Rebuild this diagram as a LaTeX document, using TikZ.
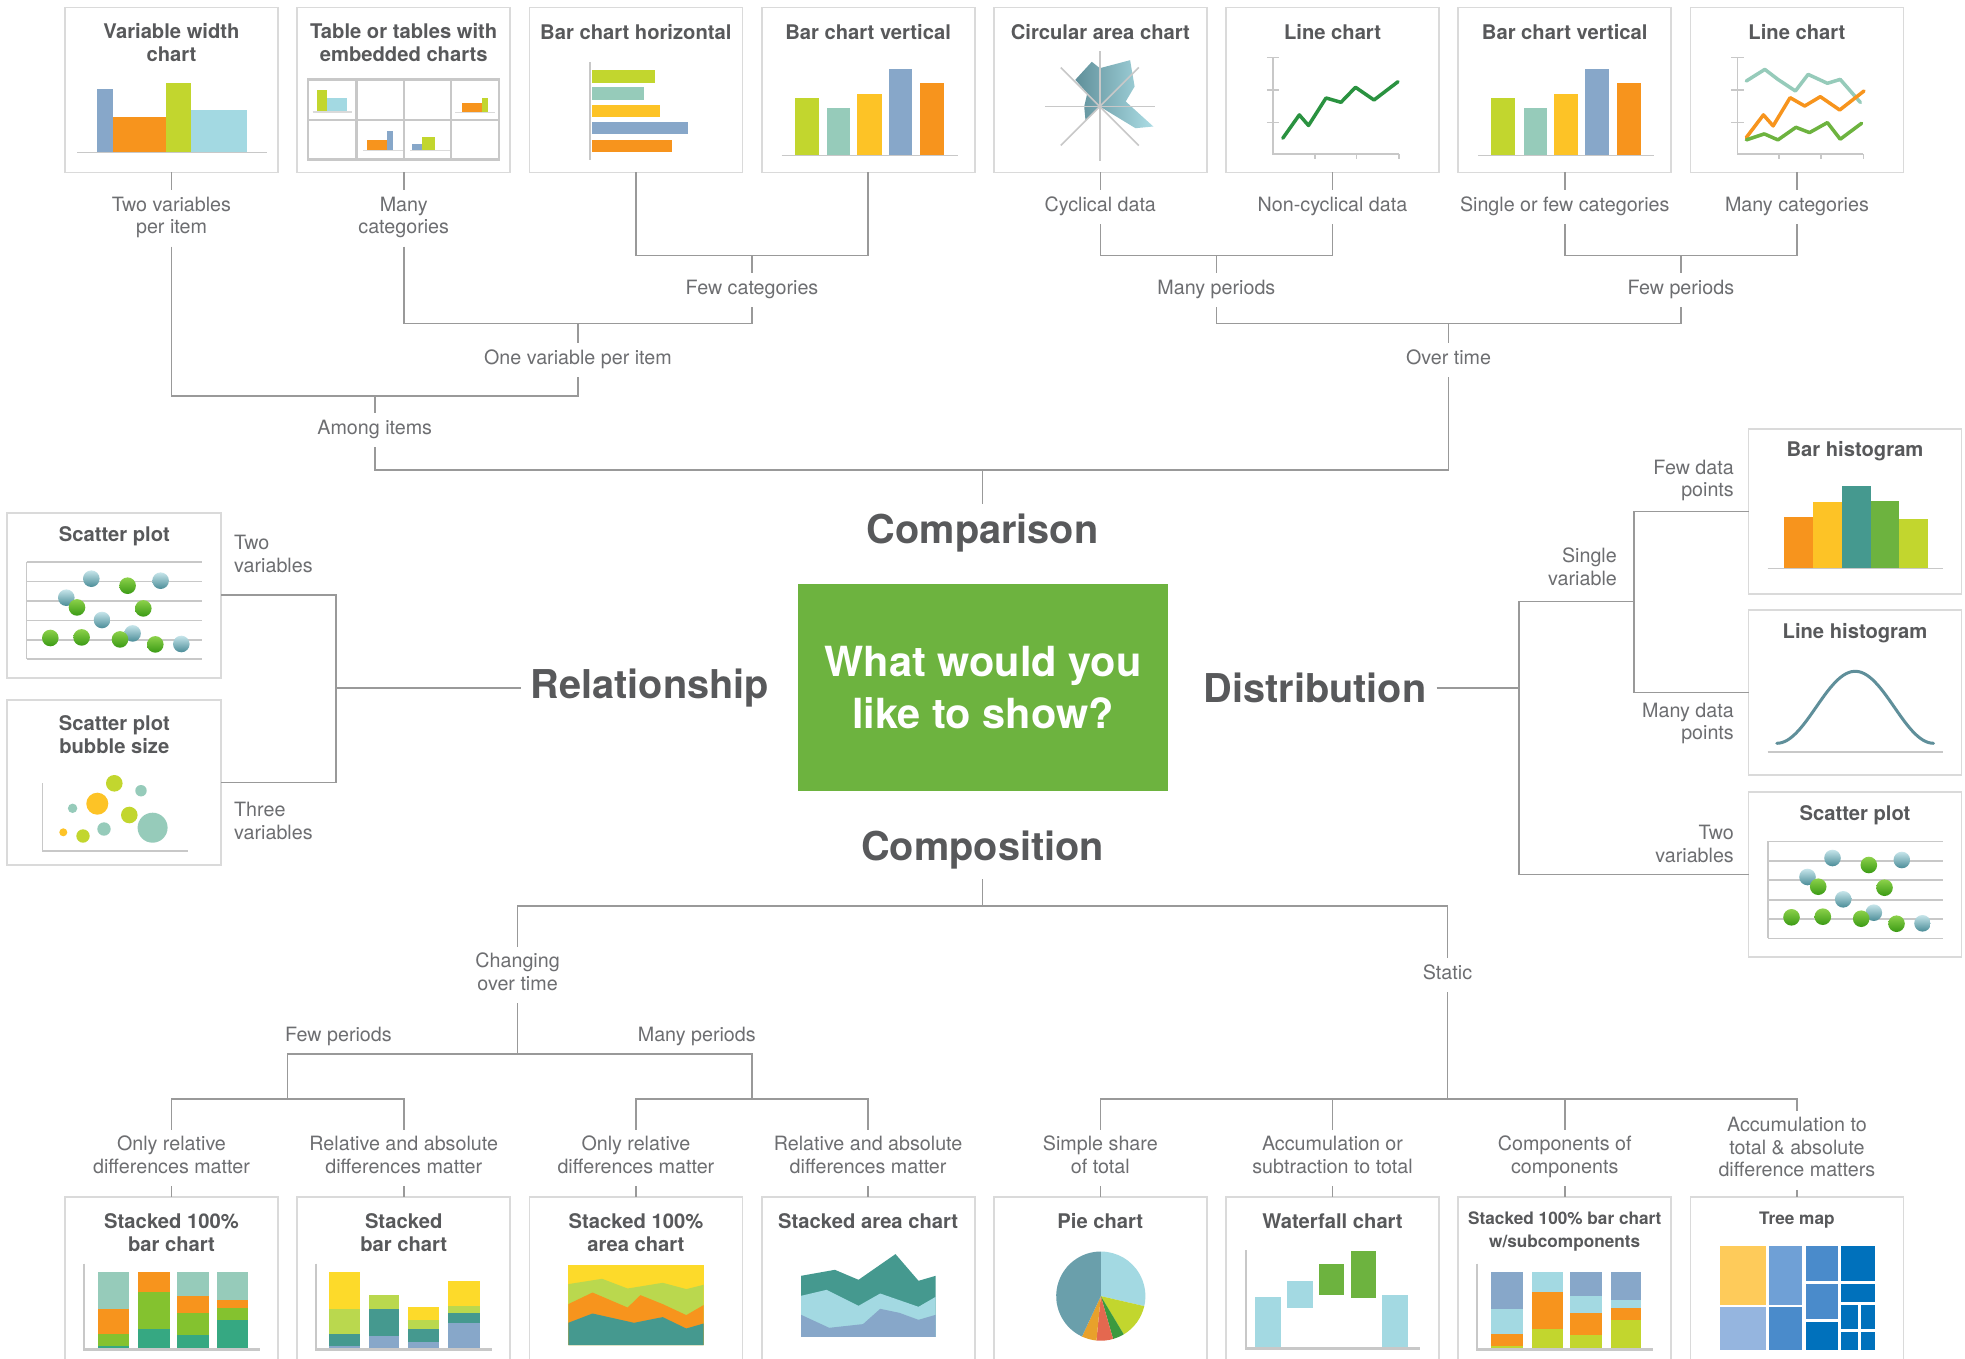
\documentclass[tikz,border=0pt]{standalone}
\usepackage{fontspec}
\setmainfont{TeX Gyre Heros}
\usetikzlibrary{calc,positioning}

\definecolor{boxline}{HTML}{DADADA}
\definecolor{linkgray}{HTML}{999999}
\definecolor{axisgray}{HTML}{C8C8C8}
\definecolor{titlegray}{HTML}{58595B}
\definecolor{lblgray}{HTML}{6D6E71}
\definecolor{cgreen}{HTML}{6DB33F}
\definecolor{cblue}{HTML}{87A7C9}
\definecolor{corange}{HTML}{F7941D}
\definecolor{clime}{HTML}{C2D62E}
\definecolor{ccyan}{HTML}{A3D9E2}
\definecolor{cmint}{HTML}{96CBBA}
\definecolor{cyellow}{HTML}{FDC326}
\definecolor{cteal}{HTML}{45998F}
\definecolor{cdkgreen}{HTML}{2A9240}
\definecolor{csgreen}{HTML}{84C22F}
\definecolor{cjade}{HTML}{36A882}
\definecolor{cbyellow}{HTML}{FDDA2A}
\definecolor{cpale}{HTML}{BAD84E}
\definecolor{cslate}{HTML}{6A9FAB}
\definecolor{cred}{HTML}{E4684F}
\definecolor{cgold}{HTML}{E8A12B}
\definecolor{cpgreen}{HTML}{3B9A3F}
\definecolor{tmyellow}{HTML}{FECB5A}
\definecolor{tmlight}{HTML}{95B5DF}
\definecolor{tmmid}{HTML}{6FA0D6}
\definecolor{tmblue}{HTML}{4A8BCB}
\definecolor{tmdark}{HTML}{0071BC}
\definecolor{ballhi}{HTML}{C6E5EA}
\definecolor{balllo}{HTML}{4A8C97}
\definecolor{grnhi}{HTML}{8CD14A}
\definecolor{grnlo}{HTML}{3A9A14}

\tikzset{
  chart/.style={draw=boxline,line width=1.8pt,fill=white,minimum width=213pt,minimum height=165pt,inner sep=0pt,outer sep=0pt},
  link/.style={draw=linkgray,line width=1.6pt},
  ax/.style={draw=axisgray,line width=1.6pt},
  ttl/.style={text=titlegray,font=\fontsize{20.2}{23}\selectfont\bfseries,align=center,inner sep=0pt},
  ttlsm/.style={ttl,font=\fontsize{17.2}{23}\selectfont\bfseries},
  lbl/.style={text=lblgray,font=\fontsize{19.7}{22.5}\selectfont,align=center,inner sep=6pt,
    execute at begin node=\strut,execute at end node=\strut},
  head/.style={text=titlegray,font=\fontsize{39.7}{46}\selectfont\bfseries,inner sep=10pt},
  ln/.style={line width=3.5pt,line cap=round,line join=round},
  tealball/.style={top color=ballhi,bottom color=balllo},
  greenball/.style={top color=grnhi,bottom color=grnlo}
}

% scatter chart inside a box
\newcommand{\scatterchart}{%
  \foreach \gy in {49.3,68.7,88,107.7,127,146.3} \draw[ax] (19.3,\gy) -- (194.7,\gy);
  \draw[ax] (19.3,49.3) -- (19.3,146.3);
  \foreach \px/\py in {84/66,153.3/68,59/85,94.7/107.3,125.3/120.7,174/131.3}
    \shade[tealball] (\px,\py) circle (8.3pt);
  \foreach \px/\py in {120.3/73,69.7/94.7,136/95.7,43/125.3,74.3/124.7,112.7/126.7,148/131.7}
    \shade[greenball] (\px,\py) circle (8.3pt);
}
% vertical bars
\newcommand{\barsvert}{%
  \fill[clime] (33,90.5) rectangle (57,148);
  \fill[cmint] (65.5,100.5) rectangle (88.7,148);
  \fill[cyellow] (95.8,86.5) rectangle (120,148);
  \fill[cblue] (127,61.5) rectangle (150.6,148);
  \fill[corange] (158.6,75.5) rectangle (182.7,148);
  \draw[ax] (20,148) -- (196,148);
}
% axes of the line charts
\newcommand{\lineaxes}{%
  \draw[ax] (47,50) -- (47,146.7) -- (173,146.7);
  \foreach \ty in {50,82.5,115} \draw[ax] (40.8,\ty) -- (53.4,\ty);
  \foreach \tx in {88.8,130.5,173} \draw[ax] (\tx,146.7) -- (\tx,152);
}
% four stacked 100% bars
\newcommand{\stackhundred}[4]{%
  \fill[#1] (33.2,75.3) rectangle (64.4,112.3);
  \fill[#2] (33.2,112.3) rectangle (64.4,137);
  \fill[#3] (33.2,137) rectangle (64.4,149);
  \fill[#4] (33.2,149) rectangle (64.4,151.3);
  \fill[#2] (73.3,75.3) rectangle (104.6,95.3);
  \fill[#3] (73.3,95.3) rectangle (104.6,132.3);
  \fill[#4] (73.3,132.3) rectangle (104.6,151.3);
  \fill[#1] (112.2,75.3) rectangle (143.5,99.3);
  \fill[#2] (112.2,99.3) rectangle (143.5,116.3);
  \fill[#3] (112.2,116.3) rectangle (143.5,138.3);
  \fill[#4] (112.2,138.3) rectangle (143.5,151.3);
  \fill[#1] (152.4,75.3) rectangle (183,103.3);
  \fill[#2] (152.4,103.3) rectangle (183,111.3);
  \fill[#3] (152.4,111.3) rectangle (183,123.3);
  \fill[#4] (152.4,123.3) rectangle (183,151.3);
  \draw[ax,line width=2.4pt] (19,66.7) -- (19,152.7) -- (194.5,152.7);
}

\begin{document}
\begin{tikzpicture}[x=1pt,y=-1pt]
\useasboundingbox (0,0) rectangle (1965,1359);
\clip (0,0) rectangle (1965,1359);
\fill[white] (0,0) rectangle (1965,1359);

% ---------- comparison (top row) ----------
\foreach \i/\x in {1/171.5,2/403.7,3/635.9,4/868.1,5/1100.3,6/1332.5,7/1564.7,8/1796.9}
  \node[chart] (t\i) at (\x,90) {};

\begin{scope}[shift={(t1.north west)}]
  \node[ttl] at (106.5,35) {Variable width\\chart};
  \fill[cblue] (32,81.5) rectangle (47.5,145);
  \fill[corange] (47.5,110) rectangle (101,145);
  \fill[clime] (101,75.5) rectangle (126,145);
  \fill[ccyan] (126,102.5) rectangle (181.5,145);
  \draw[ax] (12,145) -- (202,145);
\end{scope}
\begin{scope}[shift={(t2.north west)}]
  \node[ttl] at (106.5,35) {Table or tables with\\embedded charts};
  \draw[ax,line width=2.4pt] (10.7,72) rectangle (201.5,152);
  \foreach \gx in {59.4,106.7,154} \draw[ax,line width=2.4pt] (\gx,72) -- (\gx,152);
  \draw[ax,line width=2.4pt] (10.7,112.4) -- (201.5,112.4);
  \fill[clime] (20,82.5) rectangle (30,104);
  \fill[ccyan] (30,90.5) rectangle (50,104);
  \draw[boxline,line width=1.4pt] (15.3,104.5) -- (55,104.5);
  \fill[corange] (164.6,95.5) rectangle (184.5,104.5);
  \fill[clime] (184.5,90.5) rectangle (191,104.5);
  \draw[boxline,line width=1.4pt] (157.8,105) -- (197.6,105);
  \fill[corange] (70,132.4) rectangle (90,142.7);
  \fill[cblue] (90,123.4) rectangle (96,142.7);
  \draw[boxline,line width=1.4pt] (66,143.2) -- (106,143.2);
  \fill[cblue] (115,136.4) rectangle (125,142.7);
  \fill[clime] (125,129.4) rectangle (137.6,142.7);
  \draw[boxline,line width=1.4pt] (113,143.2) -- (153,143.2);
\end{scope}
\begin{scope}[shift={(t3.north west)}]
  \node[ttl] at (106.5,24.5) {Bar chart horizontal};
  \fill[clime] (62.4,62.5) rectangle (126,75.2);
  \fill[cmint] (62.4,79.8) rectangle (115,92.5);
  \fill[cyellow] (62.4,97.5) rectangle (131,110);
  \fill[cblue] (62.4,114.5) rectangle (159,127);
  \fill[corange] (62.4,132.4) rectangle (143,145);
  \draw[ax] (60.6,54.5) -- (60.6,153);
\end{scope}
\begin{scope}[shift={(t4.north west)}]
  \node[ttl] at (106.5,24.5) {Bar chart vertical};
  \barsvert
\end{scope}
\begin{scope}[shift={(t5.north west)}]
  \node[ttl] at (106.5,24.5) {Circular area chart};
  \shade[left color=cslate!90!black,right color=ccyan!90!white]
    (98,54.3) -- (106,60.7) -- (136.3,52.7) -- (140.8,79) -- (131.9,94) -- (159.5,119)
    -- (141.7,120.7) -- (106,99) -- (91.7,113) -- (90.4,99) -- (93.5,85.7) -- (81.5,72.3) -- cycle;
  \draw[ax] (106,44) -- (106,154);
  \draw[ax] (51,99) -- (161,99);
  \draw[ax] (67,60) -- (145,138);
  \draw[ax] (145,60) -- (67,138);
\end{scope}
\begin{scope}[shift={(t6.north west)}]
  \node[ttl] at (106.5,24.5) {Line chart};
  \lineaxes
  \draw[ln,cdkgreen] (56.8,130.7) -- (73.3,107.4) -- (82.5,118) -- (100,90.5) -- (115,94.8)
    -- (129.5,79.8) -- (148,92.5) -- (172,74.2);
\end{scope}
\begin{scope}[shift={(t7.north west)}]
  \node[ttl] at (106.5,24.5) {Bar chart vertical};
  \barsvert
\end{scope}
\begin{scope}[shift={(t8.north west)}]
  \node[ttl] at (106.5,24.5) {Line chart};
  \lineaxes
  \draw[ln,cmint] (55.9,73.5) -- (74.4,61.9) -- (87.5,71.9) -- (105,83.5) -- (117.7,66.9)
    -- (137,75.8) -- (149.8,71.9) -- (170,95);
  \draw[ln,corange] (55.9,130) -- (73,107.4) -- (82.7,118.4) -- (99.7,90.2) -- (114.3,98.5)
    -- (129.9,89.2) -- (149.3,102.5) -- (173.6,83.5);
  \draw[ln,cgreen] (55.9,132.4) -- (73.9,126.4) -- (87.5,132.4) -- (105.5,119.8) -- (119.1,125.1)
    -- (137,115.1) -- (149.8,131.7) -- (171.2,115.8);
\end{scope}

\node[lbl] (lb1) at (171.5,218.5) {Two variables\\per item};
\node[lbl] (lb2) at (403.7,218.5) {Many\\categories};
\node[lbl] (lb5) at (1100.3,207) {Cyclical data};
\node[lbl] (lb6) at (1332.5,207) {Non-cyclical data};
\node[lbl] (lb7) at (1564.7,207) {Single or few categories};
\node[lbl] (lb8) at (1796.9,207) {Many categories};
\node[lbl] (fewcat) at (752,290) {Few categories};
\node[lbl] (manyper) at (1216.4,290) {Many periods};
\node[lbl] (fewper) at (1680.8,290) {Few periods};
\node[lbl] (onevar) at (577.9,360) {One variable per item};
\node[lbl] (overtime) at (1448.6,360) {Over time};
\node[lbl] (among) at (374.7,430) {Among items};
\node[head] (cmp) at (982.5,533) {Comparison};

\coordinate (k1) at (0,255.6);
\coordinate (k2) at (0,323.3);
\coordinate (k3) at (0,396);
\coordinate (k4) at (0,470);

\foreach \i in {1,2,5,6,7,8} \draw[link] (t\i.south) -- (lb\i.north);
\draw[link] (t3.south) |- (t4.south |- k1) -- (t4.south);
\draw[link] (fewcat.north) -- (fewcat.north |- k1);
\draw[link] (lb5.south) |- (lb6.south |- k1) -- (lb6.south);
\draw[link] (manyper.north) -- (manyper.north |- k1);
\draw[link] (lb7.south) |- (lb8.south |- k1) -- (lb8.south);
\draw[link] (fewper.north) -- (fewper.north |- k1);
\draw[link] (lb2.south) |- (fewcat.south |- k2) -- (fewcat.south);
\draw[link] (onevar.north) -- (onevar.north |- k2);
\draw[link] (manyper.south) |- (fewper.south |- k2) -- (fewper.south);
\draw[link] (overtime.north) -- (overtime.north |- k2);
\draw[link] (lb1.south) |- (onevar.south |- k3) -- (onevar.south);
\draw[link] (among.north) -- (among.north |- k3);
\draw[link] (among.south) |- (overtime.south |- k4) -- (overtime.south);
\draw[link] (cmp.north) -- (cmp.north |- k4);

% ---------- centre ----------
\node[fill=cgreen,minimum width=370pt,minimum height=207pt,text=white,align=center,
  font=\fontsize{41.5}{52}\selectfont\bfseries] (q) at (983,687.5) {What would you\\like to show?};

% ---------- relationship (left) ----------
\node[chart,minimum width=214pt] (l1) at (114.3,595.2) {};
\node[chart,minimum width=214pt] (l2) at (114.3,782.5) {};
\begin{scope}[shift={(l1.north west)}]
  \node[ttl] at (107,23.5) {Scatter plot};
  \scatterchart
\end{scope}
\begin{scope}[shift={(l2.north west)}]
  \node[ttl] at (107,34.5) {Scatter plot\\bubble size};
  \fill[clime] (107,83.3) circle (8.3pt);
  \fill[cmint] (133.7,90.7) circle (5.7pt);
  \fill[cyellow] (90,103.7) circle (11pt);
  \fill[cmint] (65.3,108.3) circle (4.7pt);
  \fill[clime] (122,115) circle (8.3pt);
  \fill[cmint] (145.3,127.7) circle (15pt);
  \fill[cmint] (96.7,129) circle (6.7pt);
  \fill[cyellow] (56,132.3) circle (4pt);
  \fill[clime] (75.7,136) circle (6.7pt);
  \draw[ax] (35.3,83.3) -- (35.3,151) -- (180.3,151);
\end{scope}
\node[head] (rel) at (650,688) {Relationship};
\node[lbl,align=left,anchor=west] (twovl) at (228,557) {Two\\variables};
\node[lbl,align=left,anchor=west] (threev) at (228,824) {Three\\variables};
\coordinate (kl) at (336,688);
\draw[link] (l1.east) -| (kl) |- (l2.east);
\draw[link] (rel.west) -- (rel.west -| kl);

% ---------- distribution (right) ----------
\node[chart] (r1) at (1855,511.5) {};
\node[chart] (r2) at (1855,692.5) {};
\node[chart] (r3) at (1855,874.5) {};
\begin{scope}[shift={(r1.north west)}]
  \node[ttl] at (106.5,22.5) {Bar histogram};
  \fill[corange] (35,88) rectangle (64,139.3);
  \fill[cyellow] (64,73) rectangle (93,139.3);
  \fill[cteal] (93,57) rectangle (122,139.3);
  \fill[cgreen] (122,72) rectangle (150,139.3);
  \fill[clime] (150,90) rectangle (179,139.3);
  \draw[ax] (19,139.3) -- (194.7,139.3);
\end{scope}
\begin{scope}[shift={(r2.north west)}]
  \node[ttl] at (106.5,23.5) {Line histogram};
  \draw[ax] (19,141.7) -- (194.7,141.7);
  \draw[line width=3pt,line cap=round,color=cslate!90!black] plot[domain=28.3:185,samples=60]
    (\x,{133.3-72*(1+cos(180*(\x-106.7)/78.4))/2});
\end{scope}
\begin{scope}[shift={(r3.north west)}]
  \node[ttl] at (106.5,23.5) {Scatter plot};
  \scatterchart
\end{scope}
\node[head] (dist) at (1315,688) {Distribution};
\node[lbl,align=right,anchor=east] (fewdp) at (1740,481.5) {Few data\\points};
\node[lbl,align=right,anchor=east] (single) at (1623,570) {Single\\variable};
\node[lbl,align=right,anchor=east] (manydp) at (1740,724.5) {Many data\\points};
\node[lbl,align=right,anchor=east] (twovr) at (1740,847) {Two\\variables};
\coordinate (kr) at (1519,688);
\coordinate (ks) at (1634,601.5);
\draw[link] (dist.east) -- (dist.east -| kr);
\draw[link] (r3.west) -| (kr) |- (ks);
\draw[link] (r1.west) -| (ks) |- (r2.west);

% ---------- composition (bottom row) ----------
\node[head] (comp) at (982.5,850) {Composition};
\node[lbl] (chg) at (517.6,975) {Changing\\over time};
\node[lbl] (stat) at (1447.5,975) {Static};
\node[lbl] (fewp) at (338.4,1037) {Few periods};
\node[lbl] (manyp) at (696.8,1037) {Many periods};

\node[lbl] (bl1) at (171.5,1158) {Only relative\\differences matter};
\node[lbl] (bl2) at (403.7,1158) {Relative and absolute\\differences matter};
\node[lbl] (bl3) at (635.9,1158) {Only relative\\differences matter};
\node[lbl] (bl4) at (868.1,1158) {Relative and absolute\\differences matter};
\node[lbl] (bl5) at (1100.3,1158) {Simple share\\of total};
\node[lbl] (bl6) at (1332.5,1158) {Accumulation or\\subtraction to total};
\node[lbl] (bl7) at (1564.7,1158) {Components of\\components};
\node[lbl] (bl8) at (1796.9,1150.5) {Accumulation to\\total \& absolute\\difference matters};

\foreach \i/\x in {1/171.5,2/403.7,3/635.9,4/868.1,5/1100.3,6/1332.5,7/1564.7,8/1796.9}
  \node[chart] (b\i) at (\x,1279.3) {};

\coordinate (kc) at (0,906);
\coordinate (kp) at (0,1054);
\coordinate (kq) at (0,1099);
\coordinate (ka) at ($(bl1.north)!0.5!(bl2.north)$);
\coordinate (kb) at ($(bl3.north)!0.5!(bl4.north)$);
\draw[link] (comp.south) -- (comp.south |- kc);
\draw[link] (chg.north) |- (stat.north |- kc) -- (stat.north);
\draw[link] (chg.south) -- (chg.south |- kp);
\draw[link] (ka |- kq) -- (ka |- kp) -- (kb |- kp) -- (kb |- kq);
\draw[link] (bl1.north) |- (bl2.north |- kq) -- (bl2.north);
\draw[link] (bl3.north) |- (bl4.north |- kq) -- (bl4.north);
\draw[link] (stat.south) -- (stat.south |- kq);
\draw[link] (bl5.north) |- (bl8.north |- kq) -- (bl8.north);
\draw[link] (bl6.north) -- (bl6.north |- kq);
\draw[link] (bl7.north) -- (bl7.north |- kq);
\foreach \i in {1,...,8} \draw[link] (bl\i.south) -- (b\i.north);

\begin{scope}[shift={(b1.north west)}]
  \node[ttl] at (106.5,35.5) {Stacked 100\%\\bar chart};
  \stackhundred{cmint}{corange}{csgreen}{cjade}
\end{scope}
\begin{scope}[shift={(b2.north west)}]
  \node[ttl] at (106.5,35.5) {Stacked\\bar chart};
  \fill[cbyellow] (31.9,75.3) rectangle (63.1,112.3);
  \fill[cpale] (31.9,112.3) rectangle (63.1,137.3);
  \fill[cteal] (31.9,137.3) rectangle (63.1,149.3);
  \fill[cblue] (31.9,149.3) rectangle (63.1,151.3);
  \fill[cpale] (71.4,98.3) rectangle (102,112.3);
  \fill[cteal] (71.4,112.3) rectangle (102,139.3);
  \fill[cblue] (71.4,139.3) rectangle (102,151.3);
  \fill[cbyellow] (111,110.3) rectangle (142.2,123.3);
  \fill[cpale] (111,123.3) rectangle (142.2,132.3);
  \fill[cteal] (111,132.3) rectangle (142.2,145.3);
  \fill[cblue] (111,145.3) rectangle (142.2,151.3);
  \fill[cbyellow] (151.1,84.3) rectangle (182.4,109.3);
  \fill[cpale] (151.1,109.3) rectangle (182.4,116.3);
  \fill[cteal] (151.1,116.3) rectangle (182.4,126.3);
  \fill[cblue] (151.1,126.3) rectangle (182.4,151.3);
  \draw[ax,line width=2.4pt] (19,66.7) -- (19,152.7) -- (194.5,152.7);
\end{scope}
\begin{scope}[shift={(b3.north west)}]
  \node[ttl] at (106.5,35.5) {Stacked 100\%\\area chart};
  \fill[cbyellow] (38.9,68.3) rectangle (174.1,148.3);
  \fill[cpale] (38.9,87.3) -- (72.7,82) -- (98.2,91.7) -- (133.3,86) -- (156.9,92.3) -- (174.1,88)
    -- (174.1,148.3) -- (38.9,148.3) -- cycle;
  \fill[corange] (38.9,107.3) -- (63.1,95.7) -- (98.2,110.7) -- (111,98.3) -- (133.3,107.3)
    -- (156.9,118.3) -- (174.1,108.3) -- (174.1,148.3) -- (38.9,148.3) -- cycle;
  \fill[cteal] (38.9,126) -- (63.1,116.7) -- (104.6,126) -- (133.3,120.3) -- (156.9,131.7)
    -- (174.1,126.7) -- (174.1,148.3) -- (38.9,148.3) -- cycle;
\end{scope}
\begin{scope}[shift={(b4.north west)}]
  \node[ttl] at (106.5,24.5) {Stacked area chart};
  \fill[cteal] (39.5,79) -- (73.3,73) -- (96.9,83) -- (133.9,57.3) -- (156.9,84) -- (174.1,79)
    -- (174.1,140) -- (39.5,140) -- cycle;
  \fill[ccyan] (39.5,99) -- (65,93) -- (96.9,109) -- (118.6,96.7) -- (156.9,110) -- (174.1,100)
    -- (174.1,140) -- (39.5,140) -- cycle;
  \fill[cblue] (39.5,118) -- (67.6,131) -- (101.4,127.3) -- (118.6,112) -- (137.7,116)
    -- (156.9,123) -- (174.1,118) -- (174.1,140) -- (39.5,140) -- cycle;
\end{scope}
\begin{scope}[shift={(b5.north west)}]
  \node[ttl] at (106.5,24.5) {Pie chart};
  \coordinate (pc) at (107,99.3);
  \fill[ccyan] (pc) -- ++(90:44.6pt) arc[start angle=90,end angle=-13,radius=44.6pt] -- cycle;
  \fill[clime] (pc) -- ++(-13:44.6pt) arc[start angle=-13,end angle=-59,radius=44.6pt] -- cycle;
  \fill[cpgreen] (pc) -- ++(-59:44.6pt) arc[start angle=-59,end angle=-74,radius=44.6pt] -- cycle;
  \fill[cred] (pc) -- ++(-74:44.6pt) arc[start angle=-74,end angle=-95.6,radius=44.6pt] -- cycle;
  \fill[cgold] (pc) -- ++(-95.6:44.6pt) arc[start angle=-95.6,end angle=-115,radius=44.6pt] -- cycle;
  \fill[cslate] (pc) -- ++(-115:44.6pt) arc[start angle=-115,end angle=-270,radius=44.6pt] -- cycle;
\end{scope}
\begin{scope}[shift={(b6.north west)}]
  \node[ttl] at (106.5,24.5) {Waterfall chart};
  \fill[ccyan] (29.4,100) rectangle (55,150.7);
  \fill[ccyan] (60.8,84) rectangle (86.5,111.3);
  \fill[cgreen] (92.8,67.3) rectangle (118.4,98.3);
  \fill[cgreen] (124.7,54) rectangle (150.4,101.3);
  \fill[ccyan] (156,98.3) rectangle (182.3,150.7);
  \draw[ax,line width=2.4pt] (20,53.3) -- (20,151.7) -- (194.2,151.7);
\end{scope}
\begin{scope}[shift={(b7.north west)}]
  \node[ttlsm] at (106.5,34.5) {Stacked 100\% bar chart\\w/subcomponents};
  \stackhundred{cblue}{ccyan}{corange}{clime}
\end{scope}
\begin{scope}[shift={(b8.north west)}]
  \node[ttlsm] at (106.5,23.5) {Tree map};
  \fill[tmyellow] (29.4,49) rectangle (75.1,108);
  \fill[tmlight] (29.4,110.3) rectangle (75.1,153.3);
  \fill[tmmid] (78.2,49) rectangle (111.4,108);
  \fill[tmblue] (78.2,110.3) rectangle (111.4,153.3);
  \fill[tmblue] (115.2,49) rectangle (147.8,84);
  \fill[tmdark] (151,49) rectangle (184.2,84);
  \fill[tmblue] (115.2,87) rectangle (147.8,122);
  \fill[tmdark] (151,87) rectangle (184.2,105.3);
  \fill[tmdark] (115.2,125.3) rectangle (147.8,153.3);
  \fill[tmdark] (151,108) rectangle (167.3,132);
  \fill[tmdark] (170.3,108) rectangle (184.2,132);
  \fill[tmdark] (151,135.3) rectangle (167.3,153.3);
  \fill[tmdark] (170.3,135.3) rectangle (184.2,153.3);
\end{scope}
\end{tikzpicture}
\end{document}
